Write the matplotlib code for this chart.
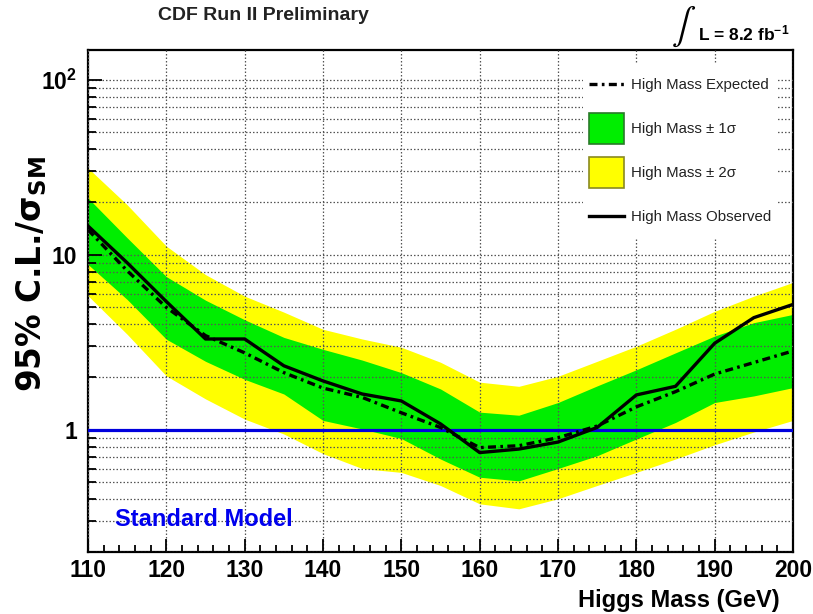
import numpy as np
import matplotlib
matplotlib.use("Agg")
import matplotlib.pyplot as plt
from matplotlib.lines import Line2D
from matplotlib.patches import Patch
from matplotlib.legend_handler import HandlerLine2D
from matplotlib.ticker import FixedLocator, FixedFormatter, LogLocator, NullFormatter

plt.rcParams["font.family"] = ["Liberation Sans", "DejaVu Sans"]
plt.rcParams["mathtext.fontset"] = "custom"
plt.rcParams["mathtext.rm"] = "Liberation Sans:bold"
plt.rcParams["mathtext.it"] = "Liberation Sans:bold:italic"
plt.rcParams["mathtext.bf"] = "Liberation Sans:bold"

# Higgs mass points (GeV)
mass = [110, 115, 120, 125, 130, 135, 140, 145, 150, 155,
        160, 165, 170, 175, 180, 185, 190, 195, 200]

# 95% C.L. limits / sigma_SM
observed = [14.6, 9.0, 5.4, 3.3, 3.3, 2.32, 1.9, 1.6, 1.46, 1.08,
            0.74, 0.775, 0.85, 1.03, 1.58, 1.77, 3.12, 4.37, 5.2]
expected = [13.9, 8.1, 5.0, 3.45, 2.75, 2.12, 1.73, 1.53, 1.25, 1.03,
            0.79, 0.81, 0.9, 1.05, 1.35, 1.65, 2.08, 2.42, 2.82]

plus2 = [31.3, 19.3, 11.2, 7.7, 5.8, 4.7, 3.75, 3.3, 2.96, 2.43,
         1.87, 1.77, 2.02, 2.46, 3.0, 3.75, 4.75, 5.8, 6.95]
plus1 = [21.1, 12.5, 7.5, 5.5, 4.25, 3.37, 2.88, 2.5, 2.12, 1.71,
         1.26, 1.21, 1.43, 1.78, 2.2, 2.75, 3.43, 4.09, 4.56]
minus1 = [8.8, 5.55, 3.29, 2.46, 1.94, 1.6, 1.13, 1.01, 0.89, 0.68,
          0.535, 0.51, 0.6, 0.71, 0.885, 1.1, 1.43, 1.56, 1.74]
minus2 = [5.83, 3.51, 2.03, 1.5, 1.15, 0.945, 0.73, 0.6, 0.57, 0.48,
          0.377, 0.353, 0.403, 0.48, 0.57, 0.68, 0.82, 0.97, 1.13]

xticks = [110, 120, 130, 140, 150, 160, 170, 180, 190, 200]
yticks = [1, 10, 100]
ytick_labels = ["1", "10", r"$10^{2}$"]

dashdot = (2.4, 1.3, 0.8, 1.3)


class CenteredLine(HandlerLine2D):
    # put legend lines at the middle of the tall colour boxes
    def create_artists(self, legend, orig_handle, xdescent, ydescent,
                       width, height, fontsize, trans):
        return super().create_artists(legend, orig_handle, xdescent, 2 * ydescent,
                                      width, height, fontsize, trans)


fig = plt.figure(figsize=(8.13, 6.14), dpi=100)
ax = fig.add_axes([88 / 813, 62 / 614, 705 / 813, 502 / 614])

ax.fill_between(mass, minus2, plus2, color="#ffff00", lw=0, zorder=1)
ax.fill_between(mass, minus1, plus1, color="#00ee00", lw=0, zorder=1.1)
ax.axhline(1, color="#0000dd", lw=2.3, zorder=3)
ax.plot(mass, expected, color="black", lw=2.4, dashes=dashdot, zorder=3.2)
ax.plot(mass, observed, color="black", lw=2.4, zorder=3.3)

ax.set_yscale("log")
ax.set_xlim(110, 200)
ax.set_ylim(0.2, 148)

ax.xaxis.set_major_locator(FixedLocator(xticks))
ax.xaxis.set_minor_locator(FixedLocator(np.arange(110, 201, 2)))
ax.yaxis.set_major_locator(FixedLocator(yticks))
ax.yaxis.set_major_formatter(FixedFormatter(ytick_labels))
ax.yaxis.set_minor_locator(LogLocator(base=10, subs=np.arange(2, 10)))
ax.yaxis.set_minor_formatter(NullFormatter())

ax.set_axisbelow(False)
ax.grid(True, which="major", axis="x", color="#555555", lw=0.9, ls=(0, (1.2, 1.6)), zorder=2)
ax.grid(True, which="both", axis="y", color="#555555", lw=0.9, ls=(0, (1.2, 1.6)), zorder=2)

ax.tick_params(which="both", direction="in", top=False, right=False,
               labelsize=16.5, width=1.3, pad=5)
ax.tick_params(axis="y", pad=8)
ax.tick_params(axis="x", which="major", length=9.5)
ax.tick_params(axis="x", which="minor", length=5)
ax.tick_params(axis="y", which="major", length=10)
ax.tick_params(axis="y", which="minor", length=5.5)
for lab in ax.get_xticklabels() + ax.get_yticklabels():
    lab.set_fontweight("bold")
for s in ax.spines.values():
    s.set_linewidth(1.6)

ax.text(0.038, 0.065, "Standard Model", transform=ax.transAxes, color="#0000ee",
        fontsize=17, fontweight="bold", va="center")

fig.text(780 / 813, 1 - 601 / 614, "Higgs Mass (GeV)", ha="right", va="center",
         fontsize=17, fontweight="bold")
fig.text(32 / 813, 1 - 274 / 614, r"95% C.L./σ$_{\mathbf{SM}}$", rotation=90,
         ha="center", va="center", fontsize=23.5, fontweight="bold",
         family="DejaVu Sans", math_fontfamily="dejavusans")
fig.text(263 / 813, 1 - 16 / 614, "CDF Run II Preliminary", ha="center", va="center",
         fontsize=14, fontweight="bold", color="#222222")
fig.text(684 / 813, 1 - 27 / 614, r"$\int$", ha="center", va="center",
         fontsize=26, math_fontfamily="stix")
fig.text(698 / 813, 1 - 33 / 614, r"L = 8.2 fb$^{-1}$", ha="left", va="center",
         fontsize=12.5, fontweight="bold")

handles = [
    Line2D([], [], color="black", lw=2.4, dashes=dashdot),
    Patch(facecolor="#00ee00", edgecolor="#2a7a2a", lw=1.2),
    Patch(facecolor="#ffff00", edgecolor="#8a8a20", lw=1.2),
    Line2D([], [], color="black", lw=2.4),
]
labels = ["High Mass Expected", "High Mass ± 1σ",
          "High Mass ± 2σ", "High Mass Observed"]
leg = ax.legend(handles, labels, loc="upper left", bbox_to_anchor=(0.702, 0.975),
                borderaxespad=0, fontsize=10.8, frameon=True, fancybox=False,
                framealpha=1, facecolor="white", edgecolor="none",
                handlelength=2.33, handleheight=2.8, handletextpad=0.45,
                labelspacing=0.87, borderpad=0.4,
                handler_map={Line2D: CenteredLine()})
leg.set_zorder(5)
for t in leg.get_texts():
    t.set_color("#222222")

fig.savefig("out.png", dpi=100)
